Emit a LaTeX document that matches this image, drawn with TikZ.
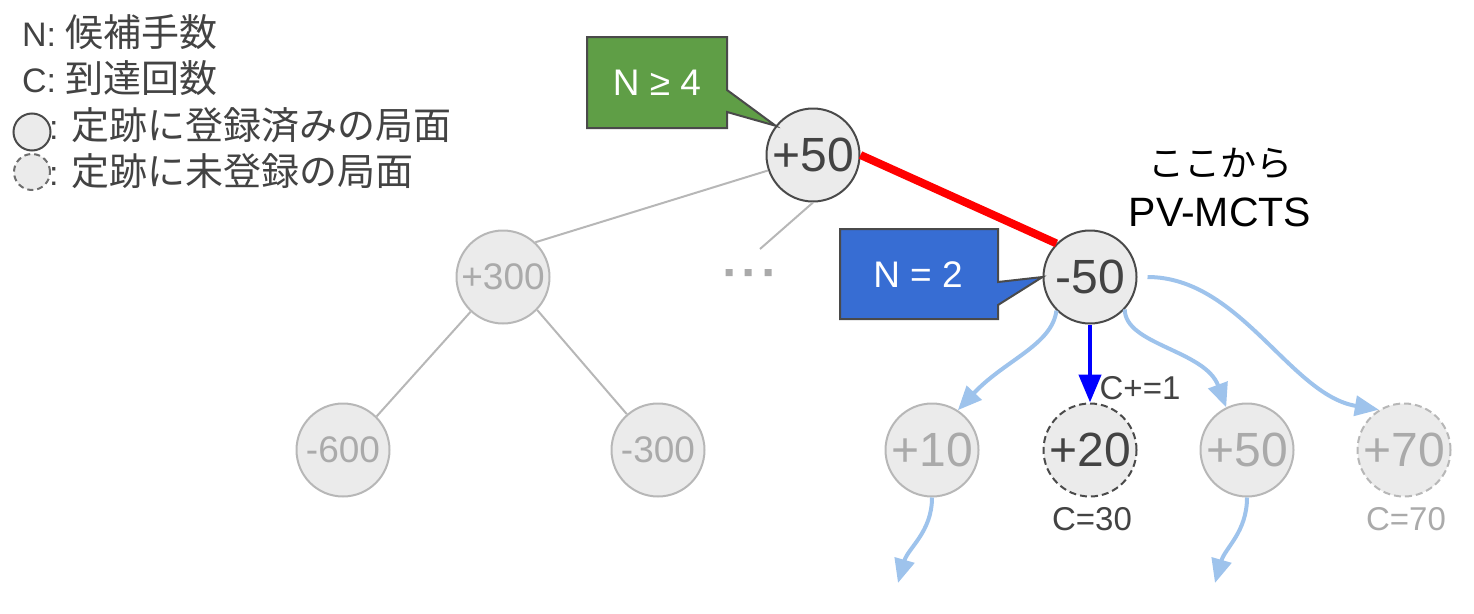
\documentclass[tikz,border=0pt]{standalone}
\usepackage{fontspec}
\setmainfont{Liberation Sans}
\newfontfamily\jp{Noto Sans CJK JP}
\usetikzlibrary{arrows.meta}
\definecolor{nodefill}{HTML}{EBEBEB}
\definecolor{darkline}{HTML}{4A4A4A}
\definecolor{darktext}{HTML}{434343}
\definecolor{grayline}{HTML}{B7B7B7}
\definecolor{graytext}{HTML}{AAAAAA}
\definecolor{lightarrow}{HTML}{9EC3EC}
\definecolor{calgreen}{HTML}{5F9E46}
\definecolor{calblue}{HTML}{376DD3}
\newcommand\jtxt[1]{{\jp\fontsize{38}{40}\selectfont #1}}
\begin{document}
\begin{tikzpicture}[x=1pt,y=-1pt,
  posn/.style={circle, minimum size=93pt, inner sep=0pt, fill=nodefill, line width=2pt},
  reg/.style={posn, draw=darkline, text=darktext, font=\fontsize{48}{52}\selectfont},
  greg/.style={posn, draw=grayline, text=graytext, font=\fontsize{48}{52}\selectfont},
  gregsmall/.style={greg, font=\fontsize{37}{40}\selectfont},
  unreg/.style={reg, dash pattern=on 7pt off 4pt},
  gunreg/.style={greg, dash pattern=on 7pt off 4pt},
  legtext/.style={anchor=base west, inner sep=0pt, text=darktext, font=\fontsize{34}{38}\selectfont},
  ctext/.style={inner sep=0pt, font=\fontsize{33}{36}\selectfont},
  treeedge/.style={draw=grayline, line width=2pt},
  lbarrow/.style={draw=lightarrow, line width=4pt, -{Triangle[length=24pt,width=20pt]}},
  callout/.style={draw=darkline, line width=2pt, line join=miter},
  caltext/.style={inner sep=0pt, text=white, font=\fontsize{37}{40}\selectfont}
]
\useasboundingbox (0,0) rectangle (1474,613);

% legend
\node[legtext] (l1) at (22,46) {N: \jtxt{候補手数}};
\node[legtext] (l2) at (22,92) {C: \jtxt{到達回数}};
\node[circle, minimum size=37pt, inner sep=0pt, fill=nodefill, draw=darkline, line width=2pt] (lc1) at (32,132) {};
\node[legtext] (l3) at (49,139) {: \jtxt{定跡に登録済みの局面}};
\node[circle, minimum size=36pt, inner sep=0pt, fill=nodefill, draw=darkline!80, line width=2pt, dash pattern=on 6pt off 4pt] (lc2) at (32,172) {};
\node[legtext] (l4) at (49,185) {: \jtxt{定跡に未登録の局面}};

% tree nodes
\node[reg] (r) at (813,155) {+50};
\node[reg] (m) at (1090,277) {-50};
\node[gregsmall] (a) at (503,277) {+300};
\node[gregsmall] (b) at (343,450) {-600};
\node[gregsmall] (c) at (658,450) {-300};
\node[greg] (d) at (932,450) {+10};
\node[unreg] (e) at (1090,450) {+20};
\node[greg] (f) at (1247,450) {+50};
\node[gunreg] (g) at (1404,450) {+70};

% dots
\node[inner sep=0pt, minimum size=10pt] (dots) at (748,272) {};
\fill[graytext] (725.5,269) rectangle ++(7,7) (744.5,269) rectangle ++(7,7) (764.5,269) rectangle ++(7,7);
\coordinate (dotsend) at (760,249);

% gray edges
\draw[treeedge] (r.199) -- (a.47);
\draw[treeedge] (r.270) -- (dotsend);
\draw[treeedge] (a.227) -- (b.45);
\draw[treeedge] (a.316) -- (c.131);

% red edge
\draw[red, line width=8pt] (r.0) -- (m.135);

% blue arrow
\draw[blue, line width=4.5pt, -{Triangle[length=28pt,width=22pt]}] (m.south) -- (e.north);
\node[ctext, text=darktext] (cplus) at (1140,388) {C+=1};

% light blue arrows
\draw[lbarrow] (m.225) .. controls (1052,345) and (1005,360) .. (d.57);
\draw[lbarrow] (m.317) .. controls (1125,345) and (1205,350) .. (f.116);
\draw[lbarrow, shorten <=10pt] (m.east) .. controls (1240,277) and (1290,395) .. (g.122);
\coordinate (dend) at (898,583);
\coordinate (fend) at (1215,583);
\draw[lbarrow] (d.south) .. controls (932,532) and (908,548) .. (dend);
\draw[lbarrow] (f.south) .. controls (1247,532) and (1225,548) .. (fend);

% C labels
\node[ctext, text=darktext] (c30) at (1092,519) {C=30};
\node[ctext, text=graytext] (c70) at (1406,519) {C=70};

% callouts
\draw[callout, fill=calgreen] (587,37) -- (727,37) -- (727,90) -- (r.142) -- (727,112) -- (727,128) -- (587,128) -- cycle;
\node[caltext] (gtxt) at (657,83) {N ≥ 4};
\draw[callout, fill=calblue] (840,229) -- (998,229) -- (998,282) -- (m.180) -- (998,305) -- (998,319) -- (840,319) -- cycle;
\node[caltext] (btxt) at (918,275) {N = 2};

% start label
\node[align=center, inner sep=0pt, text=black, font=\fontsize{41}{50}\selectfont] (start) at (1220,187) {{\jp\fontsize{36}{40}\selectfont ここから}\\PV-MCTS};
\end{tikzpicture}
\end{document}
